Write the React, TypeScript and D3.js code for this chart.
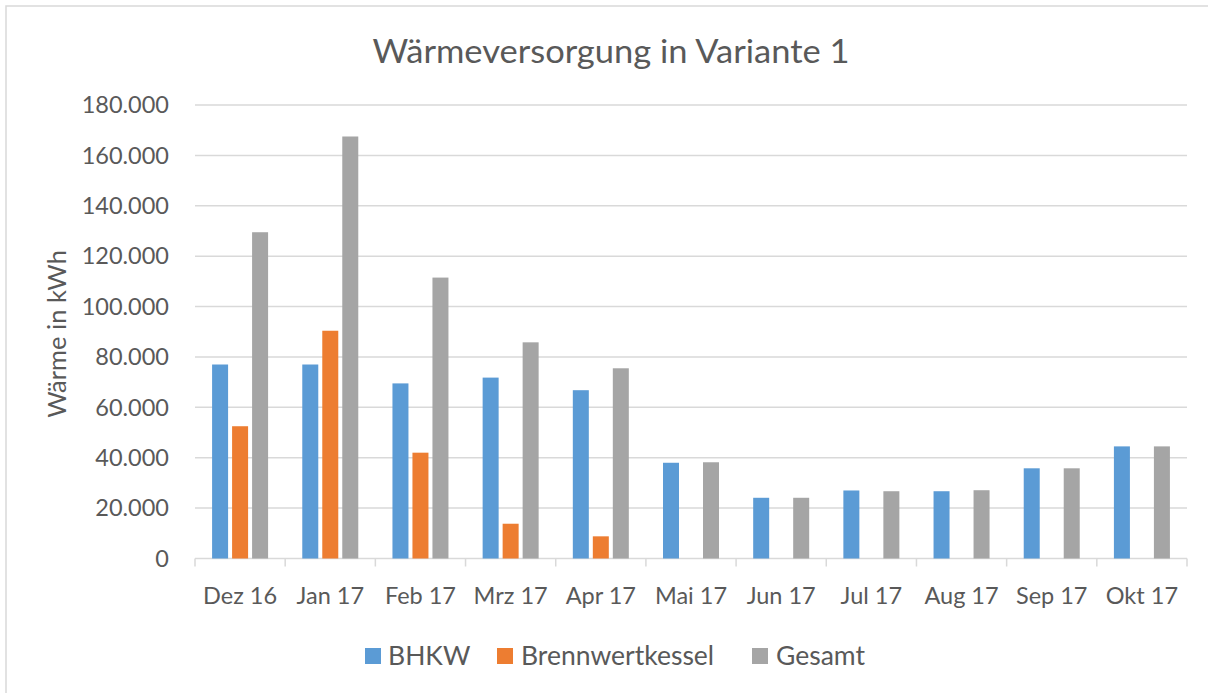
import React from "react";
import * as d3 from "d3";

const categories = ["Dez 16", "Jan 17", "Feb 17", "Mrz 17", "Apr 17", "Mai 17", "Jun 17", "Jul 17", "Aug 17", "Sep 17", "Okt 17"];
const seriesNames = ["BHKW", "Brennwertkessel", "Gesamt"];
const bhkw = [77000, 77000, 69500, 71800, 66800, 38000, 24100, 27000, 26700, 35800, 44500];
const brennwertkessel = [52500, 90400, 42000, 13800, 8800, 0, 0, 0, 0, 0, 0];
const gesamt = [129500, 167500, 111500, 85800, 75500, 38200, 24100, 26700, 27100, 35800, 44500];
const yTicks = [0, 20000, 40000, 60000, 80000, 100000, 120000, 140000, 160000, 180000];
const colors = ["#5B9BD5", "#ED7D31", "#A5A5A5"];

const W = 1208, H = 693;
const FONT = "Lato, 'Open Sans', sans-serif";
const TXT = "#595959";
const GRID = "#D9D9D9";

export default function App() {
  const left = 195, right = 1187, top = 105, bottom = 558.5;
  const x = d3.scaleBand<string>().domain(categories).range([left, right]).padding(0);
  const x1 = d3.scaleBand<string>().domain(seriesNames).range([-28, 28]).paddingInner(0.2).paddingOuter(0);
  const y = d3.scaleLinear().domain([0, 180000]).range([bottom, top]);
  const values = [bhkw, brennwertkessel, gesamt];
  const fmt = (v: number) => (v === 0 ? "0" : d3.format(",")(v).replace(/,/g, "."));
  const boundaries = categories.map((c) => x(c)!).concat([right]);

  const legend = [
    { name: "BHKW", sx: 365, tx: 388 },
    { name: "Brennwertkessel", sx: 497, tx: 521 },
    { name: "Gesamt", sx: 752, tx: 776 },
  ];

  return (
    <svg width={W} height={H} style={{ position: "absolute", left: 0, top: 0, background: "#fff" }} fontFamily={FONT}>
      <rect x={6} y={6} width={W + 10} height={H + 10} fill="#fff" stroke={GRID} strokeWidth={1.5} />
      <text x={611} y={63} textAnchor="middle" fontSize={33} fill={TXT} textLength={477} lengthAdjust="spacingAndGlyphs">Wärmeversorgung in Variante 1</text>
      {yTicks.map((t) => (
        <g key={t}>
          <line x1={left} x2={right} y1={y(t)} y2={y(t)} stroke={GRID} strokeWidth={1.5} />
          <text x={169} y={y(t)} dy="0.35em" textAnchor="end" fontSize={23.5} fill={TXT}>{fmt(t)}</text>
        </g>
      ))}
      {boundaries.map((b, i) => (
        <line key={i} x1={b} x2={b} y1={bottom} y2={bottom + 8} stroke={GRID} strokeWidth={1.5} />
      ))}
      {categories.map((c, i) =>
        seriesNames.map((s, j) => {
          const v = values[j][i];
          if (!v) return null;
          const cx = x(c)! + x.bandwidth() / 2;
          return (
            <rect key={c + s} x={cx + x1(s)!} width={x1.bandwidth()} y={y(v)} height={y(0) - y(v)} fill={colors[j]} />
          );
        })
      )}
      {categories.map((c) => (
        <text key={c} x={x(c)! + x.bandwidth() / 2} y={604} textAnchor="middle" fontSize={23.5} fill={TXT}>{c}</text>
      ))}
      <text transform={`translate(66,334) rotate(-90)`} textAnchor="middle" fontSize={25.5} fill={TXT}>Wärme in kWh</text>
      {legend.map((l, i) => (
        <g key={l.name}>
          <rect x={l.sx} y={648} width={16} height={16} fill={colors[i]} />
          <text x={l.tx} y={665} fontSize={26.5} fill={TXT}>{l.name}</text>
        </g>
      ))}
    </svg>
  );
}
